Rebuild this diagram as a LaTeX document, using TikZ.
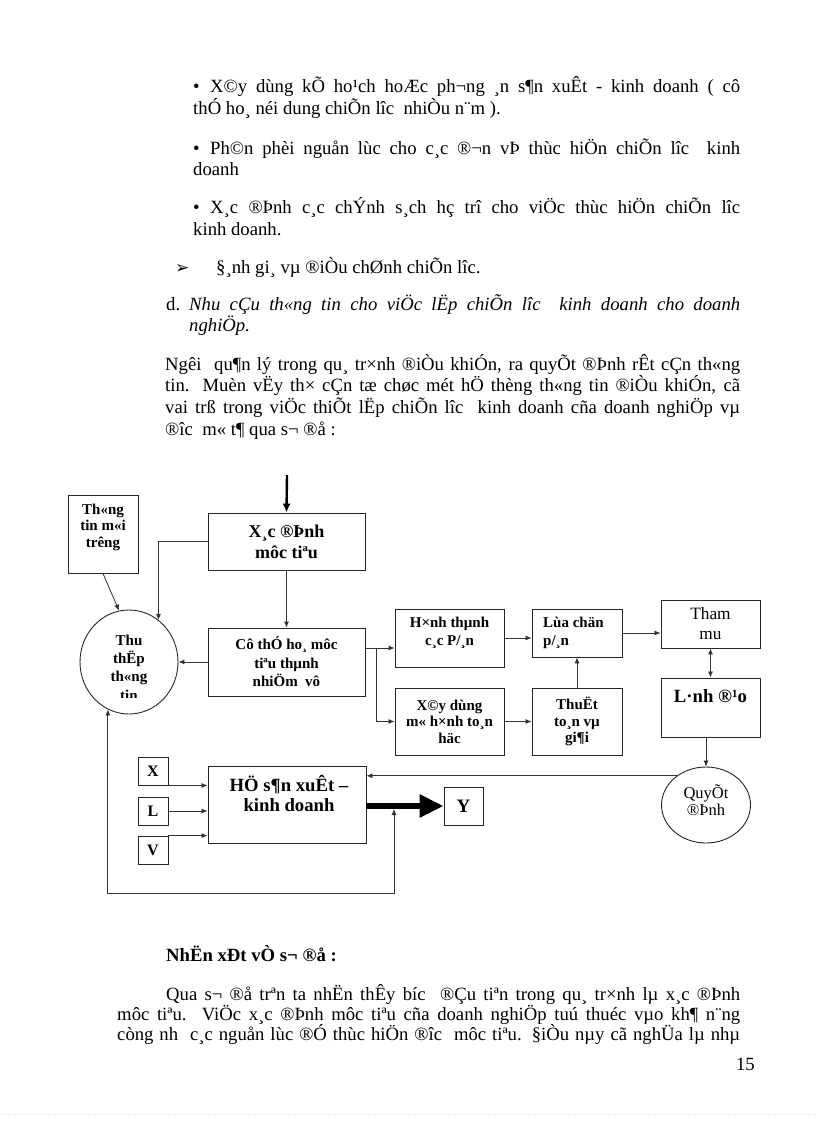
\documentclass[tikz,border=0pt]{standalone}
\usepackage{fontspec}
\setmainfont{Liberation Serif}
\newfontfamily\symfont{DejaVu Sans}
\usetikzlibrary{arrows.meta,shapes.geometric,positioning}
\newcommand{\fsz}[2]{\fontsize{#1}{#2}\selectfont}

\begin{document}
\begin{tikzpicture}[x=1pt,y=-1pt,
    box/.style={draw=black!85,line width=0.9pt,inner sep=0pt},
    blob/.style={draw=black!85,line width=0.9pt,ellipse,inner sep=0pt},
    lbl/.style={align=center,inner sep=0pt,font=\bfseries\fsz{15}{17.5}},
    arr/.style={-{Latex[length=6pt,width=5pt]},line width=0.8pt,black!80},
    dbl/.style={{Latex[length=6pt,width=5pt]}-{Latex[length=6pt,width=5pt]},line width=0.8pt,black!80},
    body/.style={anchor=base west,inner sep=0pt,font=\fsz{18.7}{21.5}}]
    \useasboundingbox (0,0) rectangle (816,1123);

    % text above the chart
    \node[body] (b1) at (193,93) {•};
    \node[body] (l1) at (210,93) {\makebox[530pt][s]{X©y dùng kÕ ho¹ch hoÆc ph¬ng ¸n s¶n xuÊt - kinh doanh ( cô}};
    \node[body] (l2) at (193,115) {thÓ ho¸ néi dung chiÕn lîc \ nhiÒu n¨m ).};
    \node[body] (b2) at (193,155) {•};
    \node[body] (l3) at (210,155) {\makebox[530pt][s]{Ph©n phèi nguån lùc cho c¸c ®¬n vÞ thùc hiÖn chiÕn lîc \ kinh}};
    \node[body] (l4) at (193,176) {doanh};
    \node[body] (b3) at (193,214) {•};
    \node[body] (l5) at (210,214) {\makebox[530pt][s]{X¸c ®Þnh c¸c chÝnh s¸ch hç trî cho viÖc thùc hiÖn chiÕn lîc}};
    \node[body] (l6) at (193,236) {kinh doanh.};
    \node[body,font=\symfont\fsz{17}{18}] (b4) at (175,273) {➢};
    \node[body] (l7) at (216,273) {§¸nh gi¸ vµ ®iÒu chØnh chiÕn lîc.};
    \node[body] (d) at (166,310) {d.};
    \node[body] (l8) at (189,310) {\itshape\makebox[551pt][s]{Nhu cÇu th«ng tin cho viÖc lËp chiÕn lîc \ kinh doanh cho doanh}};
    \node[body] (l9) at (189,331) {\itshape nghiÖp.};
    \node[body] (l10) at (165,370) {\makebox[575pt][s]{Ngêi \ qu¶n lý trong qu¸ tr×nh ®iÒu khiÓn, ra quyÕt ®Þnh rÊt cÇn th«ng}};
    \node[body] (l11) at (165,391) {\makebox[575pt][s]{tin. Muèn vËy th× cÇn tæ chøc mét hÖ thèng th«ng tin ®iÒu khiÓn, cã}};
    \node[body] (l12) at (165,413) {\makebox[575pt][s]{vai trß trong viÖc thiÕt lËp chiÕn lîc \ kinh doanh cña doanh nghiÖp vµ}};
    \node[body] (l13) at (165,435) {®îc \ m« t¶ qua s¬ ®å :};

    % chart
    \coordinate (src) at (287,475);
    \node[box,minimum width=70pt,minimum height=78pt] (env) at (103,534) {};
    \node[lbl,font=\bfseries\fsz{15}{16.5}] (envt) at (103,527) {Th«ng\\tin m«i\\trêng};
    \node[box,lbl,minimum width=157pt,minimum height=57pt,font=\bfseries\fsz{18}{21}] (goal) at (286.5,541.5) {X¸c ®Þnh\\môc tiªu};
    \node[blob,minimum width=98pt,minimum height=104pt] (thu) at (129,662) {};
    \begin{scope}
        \clip (75,600) rectangle (185,697);
        \node[lbl,font=\bfseries\fsz{15}{18.3}] (thut) at (129,667.5) {Thu\\thËp\\th«ng\\tin};
    \end{scope}
    \node[box,lbl,minimum width=157pt,minimum height=68pt,font=\bfseries\fsz{15}{18.5}] (task) at (286.5,662) {Cô thÓ ho¸ môc\\tiªu thµnh\\nhiÖm \ vô};
    \node[box,minimum width=109pt,minimum height=58pt] (plan) at (449.5,638) {};
    \node[lbl,font=\bfseries\fsz{15}{18}] (plant) at (449.5,633) {H×nh thµnh\\c¸c P/¸n};
    \node[box,lbl,minimum width=109pt,minimum height=67pt,font=\bfseries\fsz{15}{16.5}] (model) at (449.5,721.5) {X©y dùng\\m« h×nh to¸n\\häc};
    \node[box,minimum width=90pt,minimum height=48pt] (pick) at (577,633) {};
    \node[lbl,align=left,anchor=west,font=\bfseries\fsz{15}{18}] (pickt) at (543,633) {Lùa chän\\p/¸n};
    \node[box,lbl,minimum width=90pt,minimum height=67pt,font=\bfseries\fsz{15}{16.5}] (algo) at (577,721.5) {ThuËt\\to¸n vµ\\gi¶i};
    \node[box,lbl,minimum width=99pt,minimum height=48pt,font=\fsz{17.3}{20}] (staff) at (710.5,624) {Tham\\mu};
    \node[box,minimum width=99pt,minimum height=59pt] (lead) at (710.5,707.5) {};
    \node[lbl,font=\bfseries\fsz{18.7}{21}] (leadt) at (710.5,696) {L·nh ®¹o};
    \node[blob,minimum width=89pt,minimum height=76pt] (dec) at (706,805) {};
    \node[lbl,font=\fsz{16.5}{17}] (dect) at (706,800) {QuyÕt\\®Þnh};
    \node[box,minimum width=158pt,minimum height=77pt] (sys) at (287,804.5) {};
    \node[lbl,font=\bfseries\fsz{18.7}{20}] (syst) at (289,793) {HÖ s¶n xuÊt –\\kinh doanh};
    \node[box,lbl,minimum width=30pt,minimum height=28pt,font=\bfseries\fsz{16}{16}] (inX) at (153,771) {X};
    \node[box,lbl,minimum width=30pt,minimum height=28pt,font=\bfseries\fsz{16}{16}] (inL) at (153,811) {L};
    \node[box,lbl,minimum width=30pt,minimum height=28pt,font=\bfseries\fsz{16}{16}] (inV) at (153,850) {V};
    \node[box,lbl,minimum width=39pt,minimum height=38pt,font=\bfseries\fsz{19}{19}] (outY) at (463.5,806) {Y};

    \draw[line width=2.4pt,-{Latex[length=9pt,width=8pt]}] (src) -- (goal.north);
    \draw[arr] (env.south) -- (thu.101);
    \draw[arr] (goal.west) -| (thu.55);
    \draw[arr] (goal.south) -- (task.north);
    \draw[arr] (task.west) -- (thu.east);
    \coordinate (fork) at (376,648);
    \draw[arr] (task.east |- fork) -- (plan.west |- fork);
    \draw[arr] (fork) |- (model.west);
    \draw[arr] (plan.east) -- (plan.east -| pick.west);
    \draw[arr] (model.east) -- (algo.west);
    \draw[arr] (algo.north) -- (pick.south);
    \draw[arr] (pick.east) -- (pick.east -| staff.west);
    \draw[dbl] (staff.south) -- (lead.north);
    \draw[arr] (lead.south -| dec.north) -- (dec.north);
    \draw[arr] (dec.135) -- (dec.135 -| sys.east);
    \draw[arr] (inX.south east) -- (inX.south east -| sys.west);
    \draw[arr] (inL.east) -- (inL.east -| sys.west);
    \draw[arr] (inV.north east) -- (inV.north east -| sys.west);
    \draw[line width=6pt,-{Triangle[length=24pt,width=22pt]}] (sys.east |- outY.west) -- (outY.west);
    \coordinate (tap) at (394,809);
    \coordinate (loop) at (394,893);
    \draw[dbl] (tap) -- (loop) -| (thu.246);

    % text below the chart
    \node[body,font=\bfseries\fsz{18.7}{21.5}] (rem) at (166,961) {NhËn xÐt vÒ s¬ ®å :};
    \node[body] (r1) at (166,1000) {\makebox[574pt][s]{Qua s¬ ®å trªn ta nhËn thÊy bíc \ ®Çu tiªn trong qu¸ tr×nh lµ x¸c ®Þnh}};
    \node[body] (r2) at (117,1020) {\makebox[623pt][s]{môc tiªu. ViÖc x¸c ®Þnh môc tiªu cña doanh nghiÖp tuú thuéc vµo kh¶ n¨ng}};
    \node[body] (r3) at (117,1040) {\makebox[623pt][s]{còng nh \ c¸c nguån lùc ®Ó thùc hiÖn ®îc \ môc tiªu. §iÒu nµy cã nghÜa lµ nhµ}};
    \node[body,anchor=base east] (pno) at (755,1070) {15};
    \draw[black!12,dotted,line width=0.5pt] (0,1114) -- (816,1114);
\end{tikzpicture}
\end{document}
